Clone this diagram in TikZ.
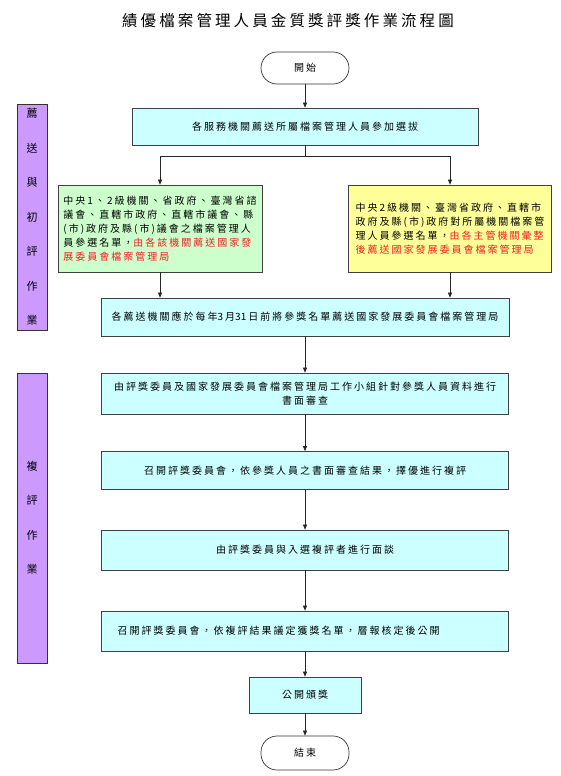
\documentclass[tikz,border=0pt]{standalone}
\usepackage{fontspec}
\setmainfont{Noto Sans CJK TC}[LetterSpace=20]
\newfontfamily\titlefont{Noto Sans CJK TC}[LetterSpace=20]
\newfontfamily\plainfont{Noto Sans CJK TC}
\usetikzlibrary{arrows.meta}
\definecolor{boxcyan}{HTML}{CCFFFF}
\definecolor{boxgreen}{HTML}{CCFFCC}
\definecolor{boxyellow}{HTML}{FFFF99}
\definecolor{lanepurple}{HTML}{CC99FF}
\definecolor{txtred}{HTML}{F02020}
\newcommand{\rt}[1]{\textcolor{txtred}{#1}}
\newcommand{\dg}[1]{{\plainfont #1}\hspace{2pt}}
\tikzset{
  flowbox/.style={draw=black!75, line width=0.7pt, fill=boxcyan, inner sep=0pt,
    font=\fontsize{10}{14}\selectfont, align=center},
  termbox/.style={draw=black!80, line width=0.7pt, rounded corners=16pt, fill=white,
    inner sep=0pt, minimum width=88pt, font=\fontsize{10}{14}\selectfont},
  lanebox/.style={draw=black!80, line width=0.8pt, fill=lanepurple, minimum width=30pt,
    inner sep=0pt, align=center, font=\fontsize{11}{34.5}\selectfont},
  conn/.style={draw=black!85, line width=0.6pt},
  arr/.style={conn, -{Triangle[length=5pt,width=4pt]}},
}
\begin{document}
\begin{tikzpicture}[x=1pt,y=-1pt]
\useasboundingbox (0,0) rectangle (561,776);
\node[font=\titlefont\fontsize{15.5}{18}\selectfont] (title) at (288,21) {績優檔案管理人員金質獎評獎作業流程圖};

\node[lanebox, minimum height=226pt] (lane1) at (32,217) {薦\\送\\與\\初\\評\\作\\業};
\node[lanebox, minimum height=290pt] (lane2) at (32,518) {複\\評\\作\\業};

\node[termbox, minimum height=32pt] (start) at (305,68) {開始};
\node[flowbox, minimum width=346pt, minimum height=37pt] (b1) at (305,126.5) {各服務機關薦送所屬檔案管理人員參加選拔};
\node[flowbox, fill=boxgreen, minimum width=204pt, minimum height=87pt, align=left] (g) at (160,228.5)
  {中央1、2級機關、省政府、臺灣省諮\\議會、直轄市政府、直轄市議會、縣\\(市)政府及縣(市)議會之檔案管理人\\員參選名單，\rt{由各該機關薦送國家發}\\\rt{展委員會檔案管理局}};
\node[flowbox, fill=boxyellow, minimum width=203pt, minimum height=87pt, align=left] (yb) at (450,228.5)
  {中央2級機關、臺灣省政府、直轄市\\政府及縣(市)政府對所屬機關檔案管\\理人員參選名單，\rt{由各主管機關彙整}\\\rt{後薦送國家發展委員會檔案管理局}};
\node[flowbox, minimum width=408pt, minimum height=38pt] (b331) at (305,317) {各薦送機關應於每年\dg{3}月\dg{31}日前將參獎名單薦送國家發展委員會檔案管理局};
\node[flowbox, minimum width=407pt, minimum height=41pt] (b2) at (305,393.5) {由評獎委員及國家發展委員會檔案管理局工作小組針對參獎人員資料進行\\書面審查};
\node[flowbox, minimum width=407pt, minimum height=38pt] (b3) at (305,470.5) {召開評獎委員會，依參獎人員之書面審查結果，擇優進行複評};
\node[flowbox, minimum width=407pt, minimum height=40pt] (b4) at (305,550) {由評獎委員與入選複評者進行面談};
\node[flowbox, minimum width=407pt, minimum height=40pt, text width=375pt, inner xsep=16pt, align=left] (b5) at (305,631) {召開評獎委員會，依複評結果議定獲獎名單，層報核定後公開};
\node[flowbox, minimum width=112pt, minimum height=36pt] (award) at (305,695) {公開頒獎};
\node[termbox, minimum height=34pt] (end) at (305,753) {結束};

\coordinate (split) at (305,156);
\draw[arr] (start) -- (b1);
\draw[conn] (b1.south) -- (split);
\draw[arr] (split) -| (g.north);
\draw[arr] (split) -| (yb.north);
\draw[arr] (g.south) -- (g.south |- b331.north);
\draw[arr] (yb.south) -- (yb.south |- b331.north);
\draw[arr] (b331) -- (b2);
\draw[arr] (b2) -- (b3);
\draw[arr] (b3) -- (b4);
\draw[arr] (b4) -- (b5);
\draw[arr] (b5) -- (award);
\draw[arr] (award) -- (end);
\end{tikzpicture}
\end{document}
